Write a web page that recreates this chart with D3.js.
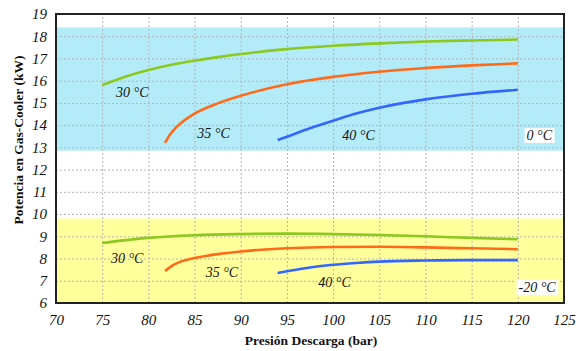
<!DOCTYPE html>
<html>
<head>
<meta charset="utf-8">
<script src="https://cdn.jsdelivr.net/npm/d3@7"></script>
<style>
  body { margin: 0; background: #fff; }
  svg text { font-family: "Liberation Serif", "DejaVu Serif", serif; }
  .grid line { stroke: #b4b4b4; stroke-dasharray: 2,2; stroke-width: 1; }
  .grid path { display: none; }
  .tick-lbl text { font-style: italic; font-size: 15px; fill: #111; }
</style>
</head>
<body>
<div id="chart"></div>
<script>

// x ticks and y ticks
const xTicks = [70, 75, 80, 85, 90, 95, 100, 105, 110, 115, 120, 125];
const yTicks = [6, 7, 8, 9, 10, 11, 12, 13, 14, 15, 16, 17, 18, 19];

// evaporation bands (kW range)
const bandNames = ["0 °C", "-20 °C"];
const bandRanges = [[12.85, 18.4], [6, 9.8]];

// series labels
const seriesNames = ["30 °C", "35 °C", "40 °C"];

// 0 °C curves
const p30_0 = [75, 77.5, 80, 82.5, 85, 87.5, 90, 95, 100, 105, 110, 115, 120];
const v30_0 = [15.8, 16.18, 16.48, 16.72, 16.9, 17.06, 17.2, 17.42, 17.57, 17.68, 17.76, 17.81, 17.85];
const p35_0 = [81.8, 82.3, 83, 84, 85, 87.5, 90, 95, 100, 105, 110, 115, 120];
const v35_0 = [13.2, 13.55, 13.9, 14.25, 14.52, 14.98, 15.32, 15.84, 16.17, 16.4, 16.57, 16.69, 16.78];
const p40_0 = [94, 95, 97.5, 100, 102.5, 105, 107.5, 110, 115, 120];
const v40_0 = [13.33, 13.48, 13.86, 14.2, 14.52, 14.78, 14.99, 15.16, 15.41, 15.59];

// -20 °C curves
const p30_20 = [75, 80, 85, 90, 95, 100, 105, 110, 115, 120];
const v30_20 = [8.7, 8.93, 9.05, 9.1, 9.12, 9.1, 9.06, 9.0, 8.93, 8.87];
const p35_20 = [81.8, 82.5, 83.5, 85, 87.5, 90, 95, 100, 105, 110, 115, 120];
const v35_20 = [7.44, 7.66, 7.86, 8.02, 8.2, 8.32, 8.46, 8.52, 8.53, 8.5, 8.46, 8.42];
const p40_20 = [94, 95, 97.5, 100, 102.5, 105, 110, 115, 120];
const v40_20 = [7.35, 7.43, 7.6, 7.72, 7.8, 7.86, 7.91, 7.93, 7.93];

const colors = ["#8cc81e", "#ff6a1a", "#3366ff"];

const width = 584, height = 351;
const margin = {top: 14, right: 20, bottom: 48, left: 56};

const x = d3.scaleLinear()
  .domain([70, 125])
  .range([margin.left, width - margin.right]);

const y = d3.scaleLinear()
  .domain([6, 19])
  .range([height - margin.bottom, margin.top]);

const svg = d3.select("#chart").append("svg")
  .attr("width", width)
  .attr("height", height);

// bands
svg.append("rect")
  .attr("x", x(70)).attr("width", x(125) - x(70))
  .attr("y", y(bandRanges[0][1])).attr("height", y(bandRanges[0][0]) - y(bandRanges[0][1]))
  .attr("fill", "#b3ecf8");
svg.append("rect")
  .attr("x", x(70)).attr("width", x(125) - x(70))
  .attr("y", y(bandRanges[1][1])).attr("height", y(bandRanges[1][0]) - y(bandRanges[1][1]))
  .attr("fill", "#ffff9c");

// grid
svg.append("g")
  .attr("class", "grid")
  .attr("transform", "translate(0," + y(6) + ")")
  .call(d3.axisBottom(x).tickValues(xTicks.slice(1, -1)).tickSize(-(y(6) - y(19))).tickFormat(""));
svg.append("g")
  .attr("class", "grid")
  .attr("transform", "translate(" + x(70) + ",0)")
  .call(d3.axisLeft(y).tickValues(yTicks.slice(1, -1)).tickSize(-(x(125) - x(70))).tickFormat(""));

// curves
const line = d3.line()
  .x(d => x(d[0]))
  .y(d => y(d[1]))
  .curve(d3.curveMonotoneX);

const curves = [
  [p30_0, v30_0, 0], [p35_0, v35_0, 1], [p40_0, v40_0, 2],
  [p30_20, v30_20, 0], [p35_20, v35_20, 1], [p40_20, v40_20, 2]
];

curves.forEach(function(c) {
  svg.append("path")
    .datum(d3.zip(c[0], c[1]))
    .attr("fill", "none")
    .attr("stroke", colors[c[2]])
    .attr("stroke-width", 2.6)
    .attr("d", line);
});

// frame
svg.append("rect")
  .attr("x", x(70)).attr("y", y(19))
  .attr("width", x(125) - x(70)).attr("height", y(6) - y(19))
  .attr("fill", "none")
  .attr("stroke", "#222")
  .attr("stroke-width", 2);

// axes labels
const xAxis = svg.append("g")
  .attr("class", "tick-lbl")
  .attr("transform", "translate(0," + y(6) + ")")
  .call(d3.axisBottom(x).tickValues(xTicks).tickSize(0).tickPadding(11));
xAxis.select(".domain").remove();

const yAxis = svg.append("g")
  .attr("class", "tick-lbl")
  .attr("transform", "translate(" + x(70) + ",0)")
  .call(d3.axisLeft(y).tickValues(yTicks).tickSize(0).tickPadding(9));
yAxis.select(".domain").remove();

svg.append("text")
  .attr("x", 311).attr("y", 345)
  .attr("text-anchor", "middle")
  .attr("font-size", 13.5)
  .attr("font-weight", "bold")
  .attr("fill", "#111")
  .text("Presión Descarga (bar)");

svg.append("text")
  .attr("transform", "translate(23," + 140 + ") rotate(-90)")
  .attr("text-anchor", "middle")
  .attr("font-size", 13.5)
  .attr("font-weight", "bold")
  .attr("fill", "#111")
  .text("Potencia en Gas-Cooler (kW)");

// series labels
const labelPos = [
  [[76.5, 15.27], [85.3, 13.42], [101, 13.33]],
  [[75.95, 7.8], [86.2, 7.17], [98.4, 6.72]]
];
labelPos.forEach(function(group) {
  group.forEach(function(p, i) {
    svg.append("text")
      .attr("x", x(p[0])).attr("y", y(p[1]))
      .attr("font-size", 14)
      .attr("font-style", "italic")
      .attr("fill", "#111")
      .text(seriesNames[i]);
  });
});

// band labels
const bandLabelPos = [[123.7, 13.33], [124.1, 6.5]];
bandNames.forEach(function(name, i) {
  const t = svg.append("text")
    .attr("x", x(bandLabelPos[i][0])).attr("y", y(bandLabelPos[i][1]))
    .attr("text-anchor", "end")
    .attr("font-size", 14)
    .attr("font-style", "italic")
    .attr("fill", "#111")
    .text(name);
  const bb = t.node().getBBox();
  svg.insert("rect", function() { return t.node(); })
    .attr("x", bb.x - 2).attr("y", bb.y)
    .attr("width", bb.width + 4).attr("height", bb.height)
    .attr("fill", "#fff");
});

</script>
</body>
</html>
